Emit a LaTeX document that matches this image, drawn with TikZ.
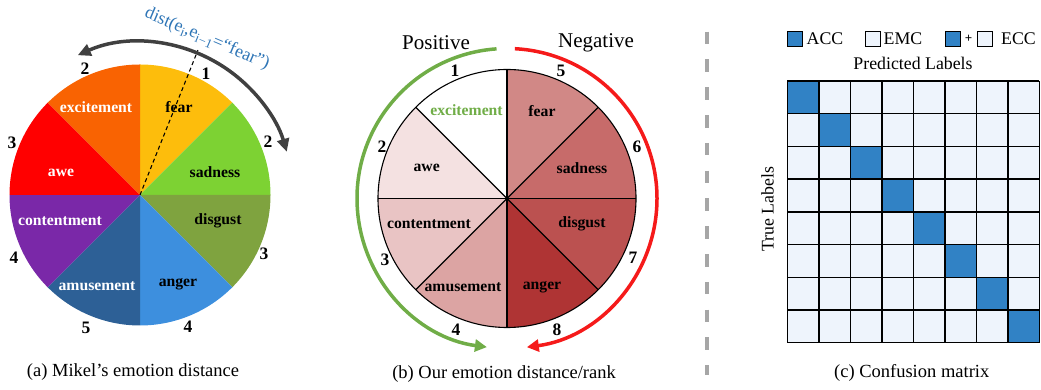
\documentclass[tikz,border=0pt]{standalone}
\usepackage{fontspec}
\setmainfont{Liberation Serif}
\usetikzlibrary{arrows.meta,calc}
\newcommand\myfs[1]{\fontsize{#1}{#1}\selectfont}
\newcommand\mysub[1]{\raisebox{-3.2pt}{\myfs{13}#1}}
% panel a colours
\definecolor{cfear}{HTML}{FDBD0C}
\definecolor{csad}{HTML}{7DD233}
\definecolor{cdisg}{HTML}{7FA33F}
\definecolor{cang}{HTML}{3D8FDE}
\definecolor{camus}{HTML}{2D6096}
\definecolor{ccont}{HTML}{7A28A8}
\definecolor{cawe}{HTML}{FF0000}
\definecolor{cexc}{HTML}{F96302}
% panel b colours
\definecolor{bexc}{HTML}{FFFFFF}
\definecolor{bawe}{HTML}{F4E1E1}
\definecolor{bcont}{HTML}{E9C4C4}
\definecolor{bamus}{HTML}{DCA4A3}
\definecolor{bfear}{HTML}{D18886}
\definecolor{bsad}{HTML}{C76B6A}
\definecolor{bdisg}{HTML}{BB5150}
\definecolor{bang}{HTML}{AF3434}
\definecolor{posgreen}{HTML}{70AD47}
\definecolor{negred}{HTML}{F51A1A}
\definecolor{distblue}{HTML}{2E75B6}
\definecolor{arcgray}{HTML}{404040}
\definecolor{sepgray}{HTML}{A6A6A6}
\definecolor{cellblue}{HTML}{3182C5}
\definecolor{celllight}{HTML}{EEF4FC}
\begin{document}
\begin{tikzpicture}[x=1pt,y=1pt,
  lbl/.style={font=\bfseries\myfs{15.7}, inner sep=0},
  num/.style={font=\bfseries\myfs{17.5}, inner sep=0},
  captxt/.style={font=\myfs{18.5}, inner sep=0},
  side/.style={font=\myfs{21}, inner sep=0},
  leg/.style={font=\myfs{17.8}, inner sep=0},
  legbox/.style={draw=black, line width=0.8},
  tipA/.style={-{Triangle[length=12,width=12]}},
]
\useasboundingbox (0,0) rectangle (1041,390);

%================ panel (a) =================
\coordinate (Ca) at (140,195);
\def\Ra{130.5}
\foreach \a/\b/\c in {90/45/cfear,45/0/csad,0/-45/cdisg,-45/-90/cang,-90/-135/camus,-135/-180/ccont,180/135/cawe,135/90/cexc}{
  \fill[\c] (Ca) -- ($(Ca)+(\a:\Ra)$) arc[start angle=\a,end angle=\b,radius=\Ra] -- cycle;
}
\node[lbl] (afear) at (179,283) {fear};
\node[lbl] (asad) at (215,218) {sadness};
\node[lbl] (adisg) at (218,169) {disgust};
\node[lbl] (aang) at (178,106) {anger};
\node[lbl,text=white] (aamus) at (97,104) {amusement};
\node[lbl,text=white] (acont) at (60,169) {contentment};
\node[lbl,text=white] (aawe) at (61,217) {awe};
\node[lbl,text=white] (aexc) at (96,283) {excitement};

\coordinate (adashend) at ($(Ca)+(68.2:156)$);
\draw[black, line width=1.1, dash pattern=on 4 off 3] (Ca) -- (adashend);

\draw[arcgray, line width=3.5, {Triangle[length=13,width=12]}-{Triangle[length=13,width=12]}]
  ($(Ca)+(114:153)$) arc[start angle=114,end angle=16.4,radius=153];

\node[num] (a1) at (206,316) {1};
\node[num] (a2r) at (268,248.5) {2};
\node[num] (a3r) at (264,136) {3};
\node[num] (a4b) at (188,63) {4};
\node[num] (a5) at (86,62) {5};
\node[num] (a4l) at (14,132) {4};
\node[num] (a3l) at (12,247) {3};
\node[num] (a2l) at (85,321) {2};

\node[rotate=-23, text=distblue, font=\myfs{18}, inner sep=0] (dist) at (207,351)
  {dist(e\mysub{i},e\mysub{i−1}=“fear”)};

\node[captxt] (capa) at (133,17.5) {(a) Mikel’s emotion distance};

%================ panel (b) =================
\coordinate (Cb) at (507,191.5);
\def\Rb{129}
\foreach \a/\b/\c in {90/45/bfear,45/0/bsad,0/-45/bdisg,-45/-90/bang,-90/-135/bamus,-135/-180/bcont,180/135/bawe,135/90/bexc}{
  \fill[\c] (Cb) -- ($(Cb)+(\a:\Rb)$) arc[start angle=\a,end angle=\b,radius=\Rb] -- cycle;
}
\draw[black, line width=1.1] (Cb) circle[radius=\Rb];
\foreach \a in {0,45,90,135}{
  \draw[black, line width=1.1] ($(Cb)+(\a:\Rb)$) -- ($(Cb)+(\a+180:\Rb)$);
}
\node[lbl,text=posgreen] (bexcl) at (466.5,280) {excitement};
\node[lbl] (bfearl) at (542,279) {fear};
\node[lbl] (bawel) at (426.7,222) {awe};
\node[lbl] (bsadl) at (582,222) {sadness};
\node[lbl] (bcontl) at (429,166) {contentment};
\node[lbl] (bdisgl) at (582,166) {disgust};
\node[lbl] (bamusl) at (463,103) {amusement};
\node[lbl] (bangl) at (542,103) {anger};

\draw[posgreen, line width=3.5, tipA]
  ($(Cb)+(94:150)$) arc[start angle=94,end angle=262.3,radius=150];
\draw[negred, line width=3.5, tipA]
  ($(Cb)+(87:150)$) arc[start angle=87,end angle=-82.4,radius=150];

\node[num] (b1) at (455,319) {1};
\node[num] (b2) at (382,243) {2};
\node[num] (b3) at (385,130) {3};
\node[num] (b4) at (456,60) {4};
\node[num] (b5) at (561,319) {5};
\node[num] (b6) at (637,243) {6};
\node[num] (b7) at (633,132) {7};
\node[num] (b8) at (557,60) {8};

\node[side] (pos) at (436,347.5) {Positive};
\node[side] (neg) at (596,347.5) {Negative};

\node[captxt] (capb) at (504,16) {(b) Our emotion distance/rank};

%================ separator =================
\draw[sepgray, line width=4, dash pattern=on 12.5 off 15.3] (706.7,358.3) -- (706.7,15);

%================ panel (c) =================
\def\cw{31.5}
\def\ch{32.71}
\foreach \i in {0,...,7}{
  \foreach \j in {0,...,7}{
    \ifnum\i=\j
      \fill[cellblue] ({787.3+\j*\cw},{309-\i*\ch}) rectangle ++(\cw,-\ch);
    \else
      \fill[celllight] ({787.3+\j*\cw},{309-\i*\ch}) rectangle ++(\cw,-\ch);
    \fi
  }
}
\foreach \k in {0,...,8}{
  \draw[black, line width=1.4] ({787.3+\k*\cw},309) -- ({787.3+\k*\cw},{309-8*\ch});
  \draw[black, line width=1.4] (787.3,{309-\k*\ch}) -- ({787.3+8*\cw},{309-\k*\ch});
}

\fill[cellblue] (787.3,343.5) rectangle (802.3,358.5);
\draw[legbox] (787.3,343.5) rectangle (802.3,358.5);
\node[leg, anchor=west] (accl) at (806.5,351) {ACC};
\fill[celllight] (865.5,343.5) rectangle (880.5,358.5);
\draw[legbox] (865.5,343.5) rectangle (880.5,358.5);
\node[leg, anchor=west] (emcl) at (883.5,351) {EMC};
\fill[cellblue] (945,343.5) rectangle (960,358.5);
\draw[legbox] (945,343.5) rectangle (960,358.5);
\node[font=\bfseries\myfs{13}, inner sep=0] (plus) at (968.5,351) {+};
\fill[celllight] (977,343.5) rectangle (992,358.5);
\draw[legbox] (977,343.5) rectangle (992,358.5);
\node[leg, anchor=west] (eccl) at (1001,351) {ECC};

\node[leg] (pred) at (913,327) {Predicted Labels};
\node[leg, rotate=90] (truel) at (767.5,181) {True Labels};

\node[captxt] (capc) at (911.7,17) {(c) Confusion matrix};
\end{tikzpicture}
\end{document}
